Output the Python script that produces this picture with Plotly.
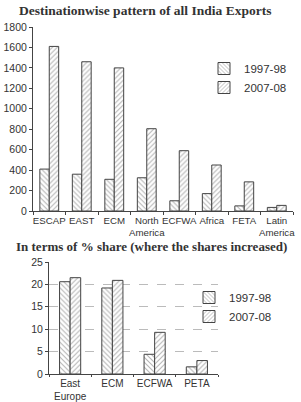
import plotly.graph_objects as go

# Top chart data
top_categories = ["ESCAP", "EAST", "ECM", "North<br>America", "ECFWA", "Africa", "FETA", "Latin<br>America"]
top_1997 = [410, 360, 310, 325, 100, 170, 50, 35]
top_2007 = [1610, 1460, 1400, 805, 590, 450, 285, 55]

# Bottom chart data
bot_categories = ["East<br>Europe", "ECM", "ECFWA", "PETA"]
bot_1997 = [20.6, 19.2, 4.4, 1.6]
bot_2007 = [21.5, 20.9, 9.3, 3.0]

series_names = ["1997-98", "2007-08"]

W, H = 301, 402
def px_y(y):
    return 1 - y / H

line_col = "#444"
fill_col = "white"
pat_col = "#666"

def marker(shape):
    return dict(color=fill_col, line=dict(color=line_col, width=1),
                pattern=dict(shape=shape, fgcolor=pat_col, bgcolor="white", size=3.5, solidity=0.3))

fig = go.Figure()

tw = 0.29
fig.add_trace(go.Bar(x=top_categories, y=top_1997, name=series_names[0], xaxis="x", yaxis="y",
                     width=tw, offset=-tw, legend="legend", marker=marker("\\")))
fig.add_trace(go.Bar(x=top_categories, y=top_2007, name=series_names[1], xaxis="x", yaxis="y",
                     width=tw, offset=0, legend="legend", marker=marker("/")))

bw = 0.25
fig.add_trace(go.Bar(x=bot_categories, y=bot_1997, name=series_names[0], xaxis="x2", yaxis="y2",
                     width=bw, offset=-bw, legend="legend2", marker=marker("\\")))
fig.add_trace(go.Bar(x=bot_categories, y=bot_2007, name=series_names[1], xaxis="x2", yaxis="y2",
                     width=bw, offset=0, legend="legend2", marker=marker("/")))

tickfont = dict(family="Liberation Sans, Arial", size=10.5, color="#333")
top_xfont = dict(family="Liberation Sans, Arial", size=9.7, color="#333")
bot_xfont = dict(family="Liberation Sans, Arial", size=10, color="#333")

fig.update_layout(
    width=W, height=H,
    margin=dict(l=0, r=0, t=0, b=0),
    paper_bgcolor="white", plot_bgcolor="white",
    barmode="overlay",
    font=tickfont,
    xaxis=dict(domain=[33 / W, 293 / W], anchor="y", showline=True, linecolor=line_col, linewidth=1,
               ticks="outside", ticklen=3, tickcolor=line_col, tickson="boundaries", tickangle=0,
               tickfont=top_xfont, showgrid=False, automargin=False),
    yaxis=dict(domain=[px_y(211), px_y(27)], anchor="x", range=[0, 1800], dtick=200,
               showline=True, linecolor=line_col, linewidth=1, ticks="outside", ticklen=3,
               tickcolor=line_col, tickfont=tickfont, showgrid=False, zeroline=False, automargin=False),
    xaxis2=dict(domain=[49 / W, 218 / W], anchor="y2", showline=True, linecolor=line_col, linewidth=1,
                ticks="outside", ticklen=2, tickcolor=line_col, tickson="boundaries", tickangle=0,
                tickfont=bot_xfont, showgrid=False, automargin=False),
    yaxis2=dict(domain=[px_y(374), px_y(262)], anchor="x2", range=[0, 25], dtick=5,
                showline=True, linecolor=line_col, linewidth=1, ticks="outside", ticklen=3,
                tickcolor=line_col, tickfont=tickfont, showgrid=True, gridcolor="#bbb",
                griddash="dash", gridwidth=1, zeroline=False, automargin=False),
    legend=dict(x=204 / W, y=px_y(54), xanchor="left", yanchor="top", bgcolor="rgba(0,0,0,0)",
                font=dict(family="Liberation Sans, Arial", size=11.5, color="#333"),
                itemwidth=30, tracegroupgap=0),
    legend2=dict(x=189 / W, y=px_y(283), xanchor="left", yanchor="top", bgcolor="rgba(0,0,0,0)",
                 font=dict(family="Liberation Sans, Arial", size=11.5, color="#333"),
                 itemwidth=30, tracegroupgap=6),
    annotations=[
        dict(text="<b>Destinationwise pattern of all India Exports</b>", x=145 / W, y=px_y(10),
             xref="paper", yref="paper", showarrow=False, xanchor="center", yanchor="middle",
             font=dict(family="Liberation Serif, Times New Roman", size=13.5, color="#333")),
        dict(text="<b>In terms of % share (where the shares increased)</b>", x=151 / W, y=px_y(246),
             xref="paper", yref="paper", showarrow=False, xanchor="center", yanchor="middle",
             font=dict(family="Liberation Serif, Times New Roman", size=13, color="#333")),
    ],
)

fig.write_html("out.html")
